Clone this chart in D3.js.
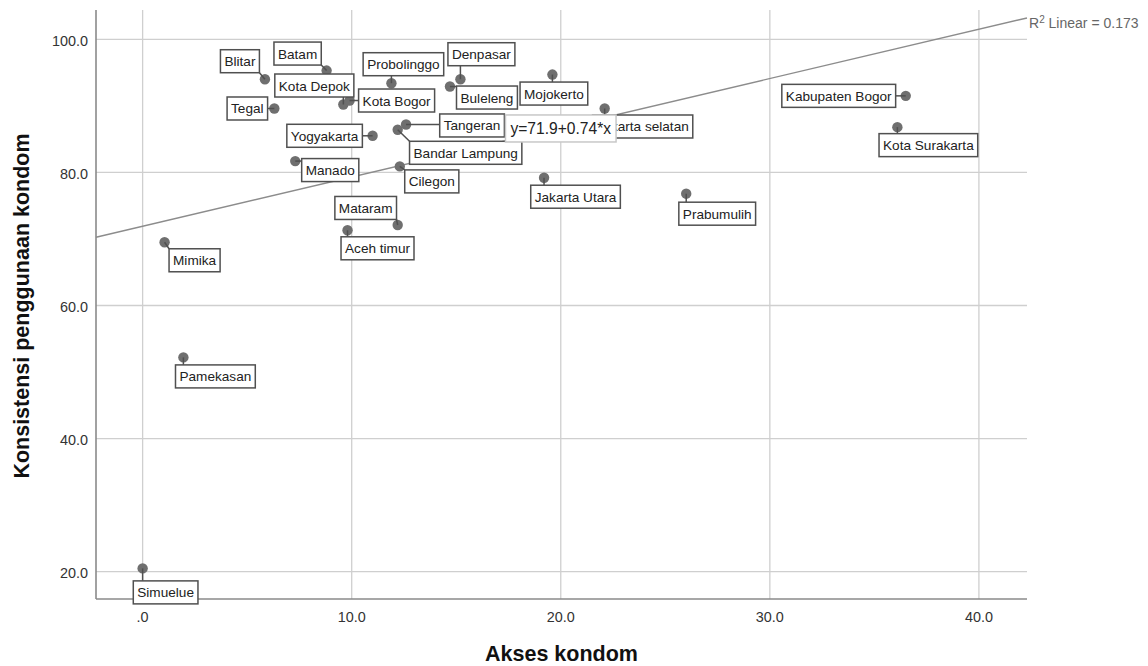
<!DOCTYPE html>
<html>
<head>
<meta charset="utf-8">
<style>
  body { margin: 0; background: #fff; }
  svg { display: block; font-family: "Liberation Sans", Arial, sans-serif; }
  .grid line { stroke: #cfcfcf; stroke-width: 1.3px; }
  .tick-label { font-size: 14.4px; fill: #333; }
  .axis-title { font-size: 21.5px; font-weight: bold; fill: #111; }
  .lbl text { font-size: 13.6px; fill: #222; }
  .lbl rect { fill: #fff; stroke: #505050; stroke-width: 1.5px; }
</style>
</head>
<body>
<div id="viz"></div>
<script src="https://d3js.org/d3.v7.min.js"></script>
<script>
// Data
var cities = ["Simuelue", "Pamekasan", "Mimika", "Blitar", "Tegal", "Batam", "Kota Depok",
  "Kota Bogor", "Yogyakarta", "Manado", "Probolinggo", "Denpasar", "Buleleng", "Mojokerto",
  "Tangeran", "Bandar Lampung", "Cilegon", "Jakarta Utara", "Jakarta selatan", "Mataram",
  "Aceh timur", "Prabumulih", "Kabupaten Bogor", "Kota Surakarta"];
var akses = [0.0, 1.95, 1.05, 5.85, 6.3, 8.8, 9.6, 9.9, 11.0, 7.3, 11.9, 15.2, 14.7, 19.6,
  12.6, 12.2, 12.3, 19.2, 22.1, 12.2, 9.8, 26.0, 36.5, 36.1];
var konsistensi = [20.5, 52.2, 69.5, 94.0, 89.6, 95.3, 90.2, 90.8, 85.5, 81.7, 93.4, 94.0,
  92.9, 94.7, 87.2, 86.4, 80.9, 79.2, 89.6, 72.1, 71.3, 76.8, 91.5, 86.8];
var xTicks = [0, 10, 20, 30, 40];
var yTicks = [20, 40, 60, 80, 100];
var intercept = 71.9, slope = 0.74, rSquared = 0.173;

// label box offsets (px from the point to box centre)
var labelOffsets = [[23, 24], [32, 19], [30, 18], [-25, -18], [-27, 0], [-29, -17], [-29, -19],
  [47, 0], [-48, 0], [35, 9], [12, -19], [21, -25], [37, 11], [1.5, 19], [66, 1], [68, 23],
  [32, 15], [31.5, 19], [38, 18], [-32, -17], [30, 18], [31, 20], [-67, 0], [31, 18]];

var W = 1148, H = 666;
var plotL = 96, plotR = 1027, plotT = 10, plotB = 599;

var svg = d3.select("#viz").append("svg")
    .attr("width", W)
    .attr("height", H);

var x = d3.scaleLinear().domain([-2.23, 42.3]).range([plotL, plotR]);
var y = d3.scaleLinear().domain([15.9, 104.4]).range([plotB, plotT]);

var fmt = function(d) { return d === 0 ? ".0" : d3.format(".1f")(d); };

// gridlines
var grid = svg.append("g").attr("class", "grid");
grid.selectAll(".gx").data(xTicks).enter().append("line")
    .attr("x1", function(d) { return x(d); }).attr("x2", function(d) { return x(d); })
    .attr("y1", plotT).attr("y2", plotB);
grid.selectAll(".gy").data(yTicks).enter().append("line")
    .attr("x1", plotL).attr("x2", plotR)
    .attr("y1", function(d) { return y(d); }).attr("y2", function(d) { return y(d); });

// axis lines
svg.append("line").attr("x1", plotL).attr("x2", plotL).attr("y1", plotT).attr("y2", plotB)
    .attr("stroke", "#8a8a8a").attr("stroke-width", 1.6);
svg.append("line").attr("x1", plotL).attr("x2", plotR).attr("y1", plotB).attr("y2", plotB)
    .attr("stroke", "#8a8a8a").attr("stroke-width", 1.6);

// tick labels
svg.selectAll(".xt").data(xTicks).enter().append("text")
    .attr("class", "tick-label")
    .attr("x", function(d) { return x(d); })
    .attr("y", plotB + 23)
    .attr("text-anchor", "middle")
    .text(fmt);
svg.selectAll(".yt").data(yTicks).enter().append("text")
    .attr("class", "tick-label")
    .attr("x", plotL - 8)
    .attr("y", function(d) { return y(d) + 6.5; })
    .attr("text-anchor", "end")
    .text(fmt);

// axis titles
svg.append("text").attr("class", "axis-title")
    .attr("x", 561.5).attr("y", 661)
    .attr("text-anchor", "middle")
    .text("Akses kondom");
svg.append("text").attr("class", "axis-title")
    .attr("transform", "translate(28.5,306) rotate(-90)")
    .attr("text-anchor", "middle")
    .text("Konsistensi penggunaan kondom");

// fit line
var x0 = x.domain()[0], x1 = x.domain()[1];
svg.append("line")
    .attr("x1", x(x0)).attr("y1", y(intercept + slope * x0))
    .attr("x2", x(x1)).attr("y2", y(intercept + slope * x1))
    .attr("stroke", "#8c8c8c").attr("stroke-width", 1.4);

var r2 = svg.append("text")
    .attr("x", x(x1) + 2).attr("y", y(intercept + slope * x1) + 10)
    .attr("font-size", "14px").attr("fill", "#666");
r2.append("tspan").text("R");
r2.append("tspan").attr("dy", -5).attr("font-size", "10px").text("2");
r2.append("tspan").attr("dy", 5).text(" Linear = " + rSquared);

// points
var pts = cities.map(function(c, i) {
  return { name: c, px: x(akses[i]), py: y(konsistensi[i]), off: labelOffsets[i] };
});

svg.selectAll(".pt").data(pts).enter().append("circle")
    .attr("cx", function(d) { return d.px; })
    .attr("cy", function(d) { return d.py; })
    .attr("r", 5.2)
    .attr("fill", "#6f6f6f");

// labels with leader lines
var lbl = svg.selectAll(".lbl").data(pts).enter().append("g").attr("class", "lbl");
lbl.each(function(d) {
  var g = d3.select(this);
  var cx = d.px + d.off[0], cy = d.py + d.off[1];
  var t = g.append("text").attr("x", cx).attr("y", cy + 5)
      .attr("text-anchor", "middle").text(d.name);
  var w = t.node().getComputedTextLength() + 8, h = 23;
  var bx = cx - w / 2, by = cy - h / 2;
  // nearest point on the box
  var nx = Math.max(bx, Math.min(d.px, bx + w)), ny = Math.max(by, Math.min(d.py, by + h));
  if (Math.hypot(nx - d.px, ny - d.py) > 4) {
    g.insert("line", "text")
        .attr("x1", d.px).attr("y1", d.py).attr("x2", nx).attr("y2", ny)
        .attr("stroke", "#505050").attr("stroke-width", 1.5);
  }
  g.insert("rect", "text").attr("x", bx).attr("y", by).attr("width", w).attr("height", h);
});

// equation box
var eq = svg.append("g").attr("class", "lbl");
var ex = x(20.0), ey = y(86.6);
var et = eq.append("text").attr("x", ex).attr("y", ey + 5.5)
    .attr("text-anchor", "middle").style("font-size", "15.6px")
    .text("y=" + intercept + "+" + slope + "*x");
var ew = et.node().getComputedTextLength() + 10;
eq.insert("rect", "text").attr("x", ex - ew / 2).attr("y", ey - 13.5)
    .attr("width", ew).attr("height", 27).style("stroke", "#c8c8c8");
</script>
</body>
</html>
